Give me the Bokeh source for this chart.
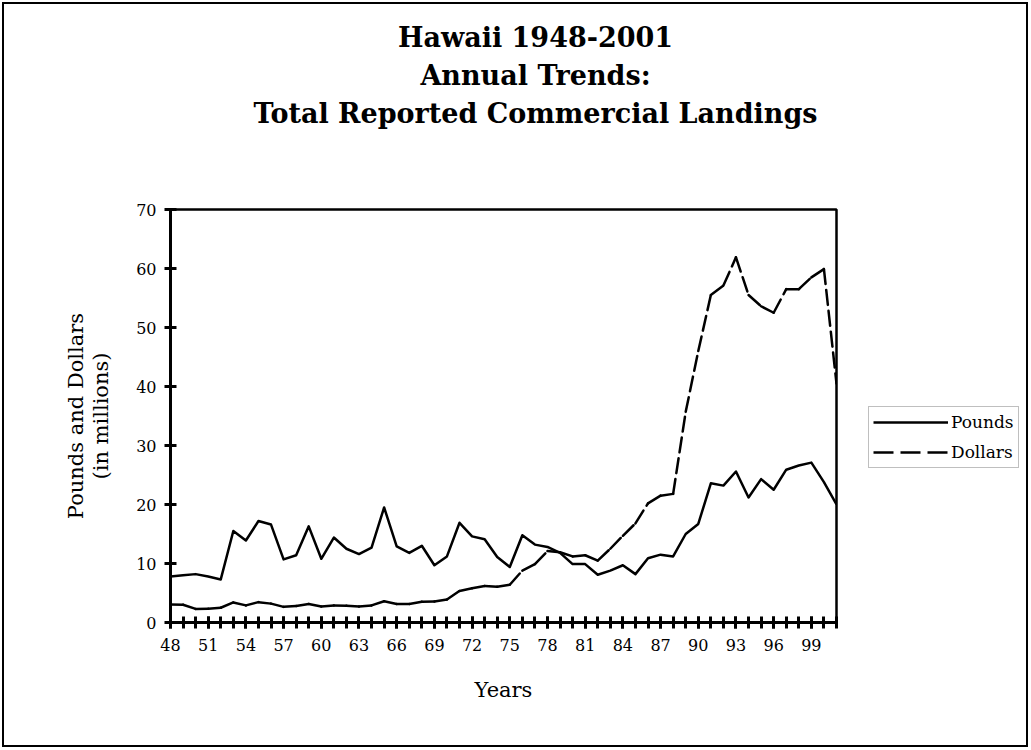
from bokeh.plotting import figure
from bokeh.layouts import row, column
from bokeh.models import (Range1d, FixedTicker, Legend, LegendItem, ColumnDataSource, Label)
from bokeh.embed import file_html
from bokeh.resources import INLINE

# ---- data ----
years = list(range(1948, 2002))
pounds = [7.8, 8.0, 8.2, 7.8, 7.3, 15.5, 13.9, 17.2, 16.6, 10.7,
          11.4, 16.3, 10.8, 14.4, 12.5, 11.6, 12.7, 19.5, 12.9, 11.8,
          13.0, 9.7, 11.2, 16.9, 14.6, 14.1, 11.1, 9.4, 14.8, 13.2,
          12.8, 11.8, 9.9, 9.9, 8.1, 8.8, 9.7, 8.2, 10.9, 11.5,
          11.2, 15.0, 16.7, 23.6, 23.2, 25.6, 21.2, 24.3, 22.5, 25.9,
          26.6, 27.1, 23.8, 20.0]
dollars = [3.05, 3.0, 2.3, 2.35, 2.5, 3.4, 2.9, 3.45, 3.2, 2.65,
           2.8, 3.15, 2.7, 2.9, 2.85, 2.7, 2.9, 3.6, 3.15, 3.15,
           3.5, 3.55, 3.9, 5.35, 5.8, 6.2, 6.05, 6.4, 8.8, 9.9,
           12.1, 11.9, 11.2, 11.4, 10.5, 12.5, 14.7, 16.8, 20.2, 21.5,
           21.8, 35.7, 46.0, 55.5, 57.1, 61.9, 55.5, 53.6, 52.5, 56.5,
           56.5, 58.5, 59.9, 40.5]
x_tick_years = list(range(1948, 2000, 3))
x_tick_labels = ["48", "51", "54", "57", "60", "63", "66", "69", "72",
                 "75", "78", "81", "84", "87", "90", "93", "96", "99"]
y_ticks = [0, 10, 20, 30, 40, 50, 60, 70]
series_names = ["Pounds", "Dollars"]
title_lines = ["Hawaii 1948-2001", "Annual Trends:", "Total Reported Commercial Landings"]

SERIF = "DejaVu Serif"
WT, HT = 1022, 130          # title strip
HB = 611                    # height of plot row
WP, WQ = 860, 162           # plot / legend widths
FL, FT, FR, FB = 166, 75, 832, 488   # frame edges in plot canvas px

# ---- title strip ----
t = figure(width=WT, height=HT, output_backend="svg", toolbar_location=None, title=None,
           x_range=Range1d(0, WT), y_range=Range1d(HT, 0), min_border=0,
           x_axis_location=None, y_axis_location=None)
t.xgrid.visible = False
t.ygrid.visible = False
t.outline_line_color = None
t.background_fill_color = "white"
t.border_fill_color = "white"
title_y = [33, 71, 109]
for txt, ty in zip(title_lines, title_y):
    t.add_layout(Label(x=531, y=ty, text=txt, text_align="center", text_baseline="middle",
                       text_font=SERIF, text_font_style="bold", text_font_size="27px",
                       text_color="black"))

# ---- main plot ----
p = figure(width=WP, height=HB, output_backend="svg", toolbar_location=None, title=None,
           x_range=Range1d(1948, 2001), y_range=Range1d(0, 70),
           min_border_left=FL, min_border_right=WP - FR,
           min_border_top=FT, min_border_bottom=HB - FB)
p.background_fill_color = "white"
p.border_fill_color = "white"
p.outline_line_color = "black"
p.outline_line_width = 2.5
p.xgrid.visible = False
p.ygrid.visible = False

r_p = p.line(years, pounds, line_color="black", line_width=2.5, line_join="round")
seg_src = ColumnDataSource(dict(x0=years[:-1], y0=dollars[:-1], x1=years[1:], y1=dollars[1:]))
r_d = p.segment(x0="x0", y0="y0", x1="x1", y1="y1", source=seg_src,
                line_color="black", line_width=2.5, line_dash="15 6", line_cap="round")

for ax in (p.xaxis[0], p.yaxis[0]):
    ax.axis_line_width = 3
    ax.axis_line_color = "black"
    ax.major_tick_line_width = 3
    ax.minor_tick_line_width = 3
    ax.major_tick_in = 6
    ax.major_tick_out = 6
    ax.minor_tick_in = 6
    ax.minor_tick_out = 6
    ax.major_label_text_font = SERIF
    ax.major_label_text_font_size = "16px"
    ax.major_label_text_color = "black"
    ax.axis_label_text_font = SERIF
    ax.axis_label_text_font_size = "21px"
    ax.axis_label_text_font_style = "normal"
    ax.axis_label_text_color = "black"

p.xaxis.ticker = FixedTicker(ticks=x_tick_years, minor_ticks=years)
p.xaxis.major_label_overrides = {yr: lab for yr, lab in zip(x_tick_years, x_tick_labels)}
p.xaxis.major_label_standoff = 10
p.xaxis.axis_label = "Years"
p.xaxis.axis_label_standoff = 24

p.yaxis.ticker = FixedTicker(ticks=y_ticks, minor_ticks=[])
p.yaxis.major_label_standoff = 8
p.yaxis.axis_label = "Pounds and Dollars\n(in millions)"
p.yaxis.axis_label_standoff = 20
p.yaxis.axis_label_text_line_height = 1.05

# ---- legend strip (to the right of the plot; its frame aligns with the plot frame) ----
q = figure(width=WQ, height=HB, output_backend="svg", toolbar_location=None, title=None,
           x_range=Range1d(0, 1), y_range=Range1d(0, 1), min_border=0,
           x_axis_location=None, y_axis_location=None)
q.xgrid.visible = False
q.ygrid.visible = False
q.outline_line_color = None
q.background_fill_color = "white"
q.border_fill_color = "white"
lg_p = q.line(x=[0], y=[float("nan")], line_color="black", line_width=2.5)
lg_d = q.line(x=[0], y=[float("nan")], line_color="black", line_width=2.5, line_dash="20 7")

legend = Legend(items=[LegendItem(label=series_names[0], renderers=[lg_p]),
                       LegendItem(label=series_names[1], renderers=[lg_d])],
                location=(4, 154))
legend.border_line_color = "#808080"
legend.border_line_width = 1
legend.background_fill_color = "white"
legend.glyph_width = 75
legend.glyph_height = 20
legend.label_standoff = 3
legend.label_text_font = SERIF
legend.label_text_font_size = "17px"
legend.label_text_color = "black"
legend.label_height = 22
legend.spacing = 8
legend.padding = 4
legend.margin = 0
q.add_layout(legend)

layout = column(t, row(p, q, spacing=0), spacing=0)
layout.styles = {"margin": "2px", "border": "2px solid black"}

open("out.html", "w").write(file_html(layout, INLINE))
